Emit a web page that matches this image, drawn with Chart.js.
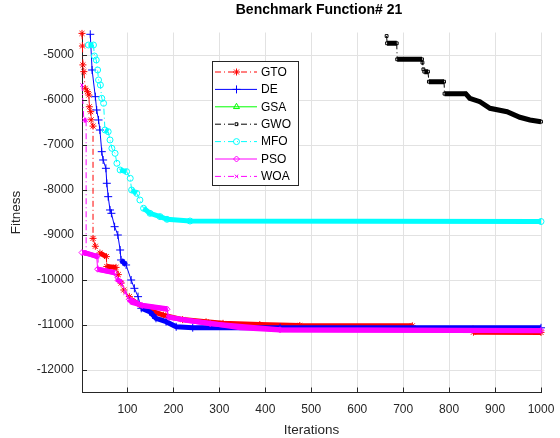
<!DOCTYPE html>
<html>
<head>
<meta charset="utf-8">
<script src="https://cdn.jsdelivr.net/npm/chart.js@4.4.0/dist/chart.umd.min.js"></script>
<style>
  html, body { margin: 0; padding: 0; background: #fff; }
  #wrap { width: 560px; height: 438px; }
</style>
</head>
<body>
<div id="wrap"><canvas id="chart"></canvas></div>
<script>
// tick labels
const xTicks = [100, 200, 300, 400, 500, 600, 700, 800, 900, 1000];
const yTicks = [-12000, -11000, -10000, -9000, -8000, -7000, -6000, -5000];

const chartTitle = 'Benchmark Function# 21';
const seriesNames = ['GTO', 'DE', 'GSA', 'GWO', 'MFO', 'PSO', 'WOA'];

// values (iteration, fitness)
const gtoIter = [1, 2, 3, 5, 8, 13, 16, 17, 20, 21, 25, 25, 30, 40, 54, 55, 75, 80, 86, 92, 104, 110, 134, 150, 178, 220, 271, 308, 388, 475, 720, 721, 852, 853, 1000];
const gtoFit = [-4520, -4800, -5220, -5370, -5740, -5815, -5890, -6150, -6260, -6440, -6580, -9075, -9250, -9400, -9480, -9700, -9720, -9880, -10070, -10222, -10370, -10450, -10600, -10680, -10780, -10880, -10930, -10963, -10990, -11012, -11018, -11080, -11090, -11160, -11165];

const deIter = [19, 23, 30, 33, 37, 40, 44, 47, 53, 55, 58, 62, 65, 72, 79, 84, 86, 97, 108, 115, 123, 130, 148, 162, 184, 206, 242, 432, 1000];
const deFit = [-4540, -5333, -5926, -6222, -6444, -6667, -7148, -7333, -7518, -7851, -8148, -8444, -8518, -8815, -9000, -9333, -9555, -9666, -10000, -10185, -10370, -10629, -10703, -10851, -10926, -11040, -11060, -11062, -11062];

// GSA stays above the visible range
const gsaIter = [1, 500, 1000];
const gsaFit = [-2600, -3400, -3900];

const gwoIter = [664, 665, 686, 687, 741, 742, 744, 746, 754, 756, 789, 790, 836, 845, 867, 889, 926, 954, 976, 1000];
const gwoFit = [-4578, -4740, -4740, -5096, -5096, -5170, -5318, -5370, -5370, -5593, -5593, -5860, -5860, -5962, -6038, -6184, -6260, -6384, -6444, -6482];

const mfoIter = [15, 26, 28, 32, 35, 37, 41, 44, 48, 51, 58, 62, 66, 73, 77, 84, 98, 106, 109, 120, 127, 135, 149, 171, 186, 236, 1000];
const mfoFit = [-4778, -4778, -5022, -5111, -5333, -5555, -5666, -5962, -6073, -6666, -6703, -6888, -7073, -7185, -7407, -7555, -7592, -7740, -8000, -8074, -8222, -8407, -8518, -8592, -8651, -8689, -8700];

const psoIter = [1, 8, 33, 35, 72, 86, 104, 132, 186, 190, 280, 432, 1000];
const psoFit = [-9390, -9400, -9470, -9760, -9840, -10050, -10430, -10570, -10650, -10830, -10970, -11105, -11120];

const woaIter = [1, 5, 10, 10, 33, 36, 36, 70, 76, 86, 95, 104, 110, 132, 186, 188, 230, 280, 345, 432, 1000];
const woaFit = [-5667, -6444, -6450, -9400, -9480, -9480, -9760, -9830, -9980, -10040, -10290, -10440, -10500, -10560, -10640, -10820, -10900, -10960, -11060, -11110, -11125];

const DASHDOT = [6, 3, 1, 3];
const FONT = '"Liberation Sans", Arial, Helvetica, sans-serif';

function pts(xs, ys) {
  return xs.map((x, i) => ({ x: x, y: ys[i] }));
}

// flat parts of the curves look like a thick band of markers
function flat(ctx) {
  const dx = Math.abs(ctx.p1.x - ctx.p0.x);
  const dy = Math.abs(ctx.p1.y - ctx.p0.y);
  return dx > 0 && dy <= dx * 1.2;
}

const styles = [
  { color: '#ff0000', dash: DASHDOT, point: 'star', r: 3.5 },
  { color: '#0000ff', dash: [], point: 'cross', r: 4 },
  { color: '#00ff00', dash: [], point: 'triangle', r: 3.5 },
  { color: '#000000', dash: DASHDOT, point: 'rect', r: 2 },
  { color: '#00ffff', dash: DASHDOT, point: 'circle', r: 3 },
  { color: '#ff00ff', dash: [], point: 'rectRot', r: 3 },
  { color: '#ff00ff', dash: DASHDOT, point: 'crossRot', r: 2.5 }
];

const seriesData = [
  pts(gtoIter, gtoFit),
  pts(deIter, deFit),
  pts(gsaIter, gsaFit),
  pts(gwoIter, gwoFit),
  pts(mfoIter, mfoFit),
  pts(psoIter, psoFit),
  pts(woaIter, woaFit)
];

const datasets = seriesNames.map((name, i) => {
  const s = styles[i];
  return {
    label: name,
    data: seriesData[i],
    order: seriesNames.length - i, // later series on top, like the original
    borderColor: s.color,
    borderWidth: 1,
    borderDash: s.dash,
    pointStyle: s.point,
    pointRadius: s.r,
    pointBorderWidth: 1,
    pointBorderColor: s.color,
    pointBackgroundColor: 'rgba(0,0,0,0)',
    fill: false,
    tension: 0,
    clip: { left: 5, top: 5, right: 5, bottom: 0 },
    segment: {
      borderWidth: ctx => flat(ctx) ? 5 : 1,
      borderDash: ctx => flat(ctx) ? [] : s.dash
    }
  };
});

const overlay = {
  id: 'overlay',
  afterDraw(chart) {
    const { ctx, chartArea: a, scales } = chart;
    const x = scales.x, y = scales.y;
    ctx.save();

    // tick marks pointing inward
    ctx.strokeStyle = '#262626';
    ctx.lineWidth = 1;
    ctx.setLineDash([]);
    ctx.beginPath();
    xTicks.forEach(v => {
      const px = Math.round(x.getPixelForValue(v)) + 0.5;
      ctx.moveTo(px, a.bottom);
      ctx.lineTo(px, a.bottom - 5);
    });
    yTicks.forEach(v => {
      const py = Math.round(y.getPixelForValue(v)) + 0.5;
      ctx.moveTo(a.left, py);
      ctx.lineTo(a.left + 5, py);
    });
    ctx.stroke();

    // title
    ctx.fillStyle = '#000';
    ctx.font = 'bold 14px ' + FONT;
    ctx.textAlign = 'center';
    ctx.textBaseline = 'middle';
    ctx.fillText(chartTitle, 319, 10);

    // legend box
    const bx = 212.5, by = 61.5, bw = 86, bh = 124;
    ctx.fillStyle = '#fff';
    ctx.fillRect(bx, by, bw, bh);
    ctx.strokeStyle = '#262626';
    ctx.strokeRect(bx, by, bw, bh);

    ctx.font = '12px ' + FONT;
    ctx.textAlign = 'left';
    seriesNames.forEach((name, i) => {
      const s = styles[i];
      const ry = 72 + i * 17.4;
      ctx.strokeStyle = s.color;
      ctx.lineWidth = 1;
      ctx.setLineDash(s.dash);
      ctx.beginPath();
      ctx.moveTo(215, ry);
      ctx.lineTo(257, ry);
      ctx.stroke();
      ctx.setLineDash([]);
      ctx.fillStyle = 'rgba(0,0,0,0)';
      Chart.helpers.drawPoint(ctx, { pointStyle: s.point, radius: s.r, borderWidth: 1, rotation: 0 }, 236.5, ry);
      ctx.fillStyle = '#000';
      ctx.fillText(name, 261, ry + 0.5);
    });

    ctx.restore();
  }
};

new Chart(document.getElementById('chart'), {
  type: 'line',
  data: { datasets: datasets },
  options: {
    responsive: true,
    maintainAspectRatio: false,
    animation: false,
    devicePixelRatio: 1,
    events: [],
    layout: { padding: { top: 32.5, right: 19, left: 0, bottom: 0 } },
    plugins: {
      legend: { display: false },
      title: { display: false },
      tooltip: { enabled: false }
    },
    scales: {
      x: {
        type: 'linear',
        min: 1,
        max: 1000,
        afterBuildTicks: s => { s.ticks = xTicks.map(v => ({ value: v })); },
        afterFit: s => {
          s.height = 45.5;
          s.paddingLeft = 0;
          s.paddingRight = 0;
        },
        ticks: {
          autoSkip: false,
          maxRotation: 0,
          padding: 10,
          color: '#262626',
          font: { family: FONT, size: 12 },
          callback: v => String(v)
        },
        grid: { color: '#e2e2e2', drawTicks: false },
        border: { color: '#262626', width: 1 },
        title: {
          display: true,
          text: 'Iterations',
          color: '#262626',
          font: { family: FONT, size: 13.5 },
          padding: { top: 0, bottom: 0 }
        }
      },
      y: {
        type: 'linear',
        min: -12500,
        max: -4500,
        afterBuildTicks: s => { s.ticks = yTicks.map(v => ({ value: v })); },
        afterFit: s => {
          s.width = 82;
          s.paddingTop = 0;
          s.paddingBottom = 0;
        },
        ticks: {
          padding: 8,
          color: '#262626',
          font: { family: FONT, size: 12 },
          callback: v => String(v)
        },
        grid: { color: '#e2e2e2', drawTicks: false },
        border: { color: '#262626', width: 1 },
        title: {
          display: true,
          text: 'Fitness',
          color: '#262626',
          font: { family: FONT, size: 13.5 },
          padding: { top: 8, bottom: 0 }
        }
      }
    }
  },
  plugins: [overlay]
});
</script>
</body>
</html>
